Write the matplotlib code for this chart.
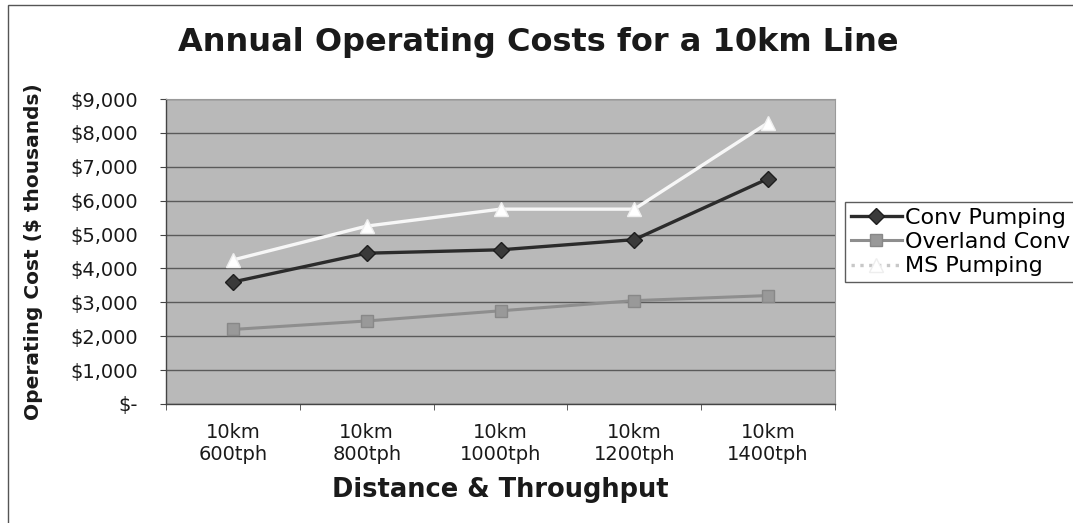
import matplotlib
matplotlib.use("Agg")
import matplotlib.pyplot as plt
from matplotlib.patches import Rectangle

categories = ["10km\n600tph", "10km\n800tph", "10km\n1000tph", "10km\n1200tph", "10km\n1400tph"]
conv_pumping = [3600, 4450, 4550, 4850, 6650]
overland_conv = [2200, 2450, 2750, 3050, 3200]
ms_pumping = [4250, 5250, 5750, 5750, 8300]
yticks = [0, 1000, 2000, 3000, 4000, 5000, 6000, 7000, 8000, 9000]
ytick_labels = ["$-", "$1,000", "$2,000", "$3,000", "$4,000", "$5,000",
                "$6,000", "$7,000", "$8,000", "$9,000"]

plt.rcParams['font.family'] = ['DejaVu Sans']

W, H = 1073, 523
fig = plt.figure(figsize=(W / 100, H / 100), dpi=100)
fig.patch.set_facecolor("white")

L, R, T, B = 166, 835, 99, 404
ax = fig.add_axes([L / W, 1 - B / H, (R - L) / W, (B - T) / H])
ax.set_facecolor("#b9b9b9")

x = list(range(len(categories)))
ax.plot(x, conv_pumping, color="#2b2b2b", lw=2.4, marker="D", ms=8,
        mfc="#3a3a3a", mec="#1e1e1e", label="Conv Pumping", zorder=4)
ax.plot(x, overland_conv, color="#8e8e8e", lw=2.2, marker="s", ms=8,
        mfc="#999999", mec="#888888", label="Overland Conv", zorder=3)
ax.plot(x, ms_pumping, color="#f7f7f7", lw=2.4, marker="^", ms=10,
        mfc="#ffffff", mec="#eeeeee", label="MS Pumping", zorder=3)

ax.set_xlim(-0.5, len(categories) - 0.5)
ax.set_ylim(0, 9000)
ax.set_yticks(yticks)
ax.set_yticklabels(ytick_labels, fontsize=14)
ax.set_xticks(x)
ax.set_xticklabels(categories, fontsize=14, linespacing=1.15)
ax.set_xticks([i - 0.5 for i in range(len(categories) + 1)], minor=True)
ax.tick_params(axis="x", which="major", length=0, pad=14)
ax.tick_params(axis="x", which="minor", length=4, direction="out", color="#444444")
ax.tick_params(axis="y", length=4, direction="out", color="#444444", pad=16)
for lab in ax.get_yticklabels():
    lab.set_color("#1a1a1a")
for lab in ax.get_xticklabels():
    lab.set_color("#1a1a1a")

ax.yaxis.grid(True, color="#5a5a5a", lw=1.0)
ax.set_axisbelow(True)
for s in ["top", "right"]:
    ax.spines[s].set_color("#9a9a9a")
    ax.spines[s].set_linewidth(0.8)
for s in ["left", "bottom"]:
    ax.spines[s].set_color("#444444")
    ax.spines[s].set_linewidth(1.0)

ax.set_ylabel("Operating Cost ($ thousands)", fontsize=14.5, fontweight="bold", color="#1a1a1a")
ax.yaxis.set_label_coords((34 - L) / (R - L), 0.5)
ax.set_xlabel("Distance & Throughput", fontsize=18.5, fontweight="bold", color="#1a1a1a")
ax.xaxis.set_label_coords(0.5, (B - 490) / (B - T))
ax.xaxis.label.set_va("center")
ax.yaxis.label.set_va("center")

fig.text(538 / W, 1 - 42 / H, "Annual Operating Costs for a 10km Line",
         ha="center", va="center", fontsize=23, fontweight="bold", color="#1a1a1a")

leg = ax.legend(loc="upper left", bbox_to_anchor=(845 / W, 1 - 202 / H),
                bbox_transform=fig.transFigure, fontsize=16, frameon=True,
                fancybox=False, edgecolor="#333333", facecolor="white",
                handlelength=2.3, handletextpad=0.15, borderpad=0.25,
                labelspacing=0.2, borderaxespad=0)
leg.get_frame().set_linewidth(1.0)
leg.legend_handles[2].set_color("#c8c8c8")
leg.legend_handles[2].set_linestyle(":")

fig.add_artist(Rectangle((8 / W, -0.02), 1.05, 1 - 5 / H + 0.02,
                         transform=fig.transFigure, fill=False,
                         edgecolor="#555555", lw=1.0))

fig.savefig("out.png", dpi=100)
